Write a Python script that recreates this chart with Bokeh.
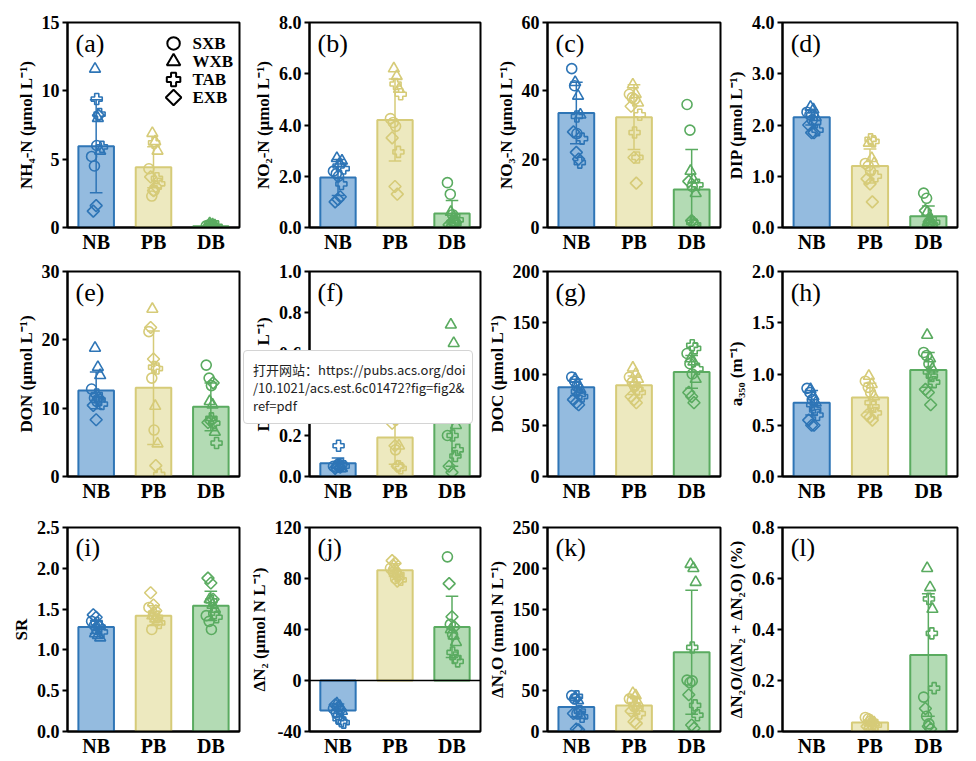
import math
from bokeh.plotting import figure
from bokeh.layouts import gridplot, column
from bokeh.models import Range1d, FixedTicker, PrintfTickFormatter, Label, Span, Div
from bokeh.embed import file_html
from bokeh.resources import INLINE

GROUPS = ["NB", "PB", "DB"]
SITES = ["SXB", "WXB", "TAB", "EXB"]
EDGE = ["#2e75b6", "#d6cb78", "#5aab60"]
FILL = ["#94bbdf", "#ede9bf", "#b3dbb4"]

# values per group: 3 points for each site in order SXB, WXB, TAB, EXB
NH4_NB = [5.2, 4.5, 6.0, 11.6, 8.0, 5.6, 9.4, 8.3, 5.9, 1.2, 1.6, 8.2]
NH4_PB = [4.3, 2.3, 2.7, 6.9, 6.3, 5.6, 6.2, 3.6, 3.2, 3.7, 2.7, 3.0]
NH4_DB = [0.12, 0.2, 0.06, 0.3, 0.22, 0.15, 0.1, 0.05, 0.08, 0.05, 0.1, 0.07]
NH4_MEAN = [5.95, 4.4, 0.1]
NH4_SD = [3.4, 1.5, 0.08]

NO2_NB = [2.2, 2.1, 2.0, 2.7, 2.5, 2.6, 2.4, 1.7, 2.3, 1.0, 1.1, 1.2]
NO2_PB = [4.25, 4.1, 3.95, 6.2, 5.9, 5.4, 5.6, 2.95, 5.2, 3.5, 1.6, 1.3]
NO2_DB = [1.75, 1.3, 0.5, 0.6, 0.4, 0.3, 0.2, 0.15, 0.3, 0.1, 0.05, 0.2]
NO2_MEAN = [1.95, 4.2, 0.55]
NO2_SD = [0.7, 1.6, 0.5]

NO3_NB = [46.5, 41.5, 27.5, 42.5, 38.5, 33.0, 32.5, 19.0, 26.0, 28.0, 22.0, 20.0]
NO3_PB = [39.0, 38.0, 37.5, 41.8, 39.0, 36.5, 27.8, 20.5, 33.0, 35.5, 20.5, 13.0]
NO3_DB = [36.0, 28.5, 12.0, 16.5, 14.0, 10.0, 1.5, 0.8, 12.5, 13.5, 2.0, 1.0]
NO3_MEAN = [33.5, 32.3, 11.1]
NO3_SD = [9.0, 9.5, 11.7]

DIP_NB = [2.25, 2.2, 2.1, 2.35, 2.3, 2.15, 2.2, 2.05, 1.9, 2.0, 1.85, 1.85]
DIP_PB = [1.25, 1.2, 1.1, 1.65, 1.35, 1.25, 1.72, 1.68, 1.0, 0.95, 0.85, 0.5]
DIP_DB = [0.67, 0.57, 0.1, 0.3, 0.15, 0.05, 0.08, 0.05, 0.1, 0.33, 0.05, 0.1]
DIP_MEAN = [2.15, 1.2, 0.22]
DIP_SD = [0.15, 0.33, 0.2]

DON_NB = [12.8, 11.5, 11.0, 18.8, 16.0, 14.8, 12.0, 11.2, 10.6, 10.4, 8.3, 11.5]
DON_PB = [21.2, 14.4, 6.8, 24.5, 10.3, 4.8, 16.0, 15.8, 0.3, 21.8, 17.2, 1.6]
DON_DB = [16.3, 14.4, 13.3, 11.0, 10.5, 6.5, 8.5, 7.8, 4.9, 7.9, 8.1, 13.7]
DON_MEAN = [12.6, 13.0, 10.2]
DON_SD = [2.7, 8.3, 3.5]

DOP_NB = [0.05, 0.045, 0.06, 0.055, 0.05, 0.04, 0.15, 0.06, 0.05, 0.04, 0.05, 0.045]
DOP_PB = [0.35, 0.3, 0.13, 0.4, 0.33, 0.15, 0.28, 0.05, 0.04, 0.26, 0.15, 0.05]
DOP_DB = [0.2, 0.35, 0.4, 0.74, 0.65, 0.25, 0.2, 0.1, 0.13, 0.05, 0.02, 0.3]
DOP_MEAN = [0.065, 0.19, 0.27]
DOP_SD = [0.025, 0.13, 0.22]

DOC_NB = [97, 93, 88, 95, 90, 85, 83, 80, 78, 75, 72, 70]
DOC_PB = [97, 92, 88, 106, 100, 95, 90, 85, 82, 78, 75, 72]
DOC_DB = [120, 110, 100, 115, 112, 95, 128, 125, 105, 82, 78, 72]
DOC_MEAN = [87, 89, 102]
DOC_SD = [8, 9, 16]

A350_NB = [0.86, 0.82, 0.75, 0.85, 0.78, 0.72, 0.70, 0.65, 0.60, 0.55, 0.50, 0.50]
A350_PB = [0.93, 0.87, 0.82, 0.98, 0.90, 0.78, 0.72, 0.68, 0.62, 0.60, 0.58, 0.55]
A350_DB = [1.21, 1.18, 1.10, 1.38, 1.15, 1.05, 1.02, 0.98, 0.92, 0.85, 0.82, 0.70]
A350_MEAN = [0.72, 0.77, 1.04]
A350_SD = [0.12, 0.14, 0.17]

SR_NB = [1.35, 1.30, 1.25, 1.20, 1.18, 1.15, 1.33, 1.28, 1.22, 1.43, 1.40, 1.30]
SR_PB = [1.52, 1.25, 1.40, 1.42, 1.38, 1.35, 1.45, 1.40, 1.33, 1.70, 1.55, 1.48]
SR_DB = [1.42, 1.35, 1.25, 1.62, 1.55, 1.50, 1.60, 1.45, 1.40, 1.88, 1.82, 1.62]
SR_MEAN = [1.28, 1.42, 1.54]
SR_SD = [0.08, 0.12, 0.18]

DN2_NB = [-22, -25, -27, -18, -20, -24, -30, -32, -33, -19, -21, -23]
DN2_PB = [88, 85, 80, 90, 86, 82, 84, 83, 79, 94, 92, 78]
DN2_DB = [97, 44, 36, 40, 35, 30, 22, 18, 15, 76, 50, 42]
DN2_MEAN = [-23.5, 86.5, 42]
DN2_SD = [5, 5, 24]

DN2O_NB = [44, 40, 22, 42, 38, 20, 43, 25, 18, 22, 3, 2]
DN2O_PB = [40, 38, 30, 47, 44, 35, 33, 28, 22, 25, 12, 10]
DN2O_DB = [63, 60, 62, 205, 200, 183, 103, 32, 20, 45, 8, 4]
DN2O_MEAN = [30, 32, 97]
DN2O_SD = [12, 10, 76]

RATIO_NB = []
RATIO_PB = [0.055, 0.05, 0.04, 0.045, 0.04, 0.035, 0.03, 0.03, 0.025, 0.02, 0.015, 0.01]
RATIO_DB = [0.135, 0.06, 0.03, 0.64, 0.565, 0.48, 0.52, 0.385, 0.17, 0.09, 0.02, 0.01]
RATIO_MEAN = [None, 0.035, 0.30]
RATIO_SD = [None, 0.01, 0.24]

PANELS = [
    ("(a)", "NH₄-N (μmol L⁻¹)", 0, 15, [0, 5, 10, 15], "%d", (NH4_NB, NH4_PB, NH4_DB), NH4_MEAN, NH4_SD),
    ("(b)", "NO₂-N (μmol L⁻¹)", 0, 8, [0, 2, 4, 6, 8], "%.1f", (NO2_NB, NO2_PB, NO2_DB), NO2_MEAN, NO2_SD),
    ("(c)", "NO₃-N (μmol L⁻¹)", 0, 60, [0, 20, 40, 60], "%d", (NO3_NB, NO3_PB, NO3_DB), NO3_MEAN, NO3_SD),
    ("(d)", "DIP (μmol L⁻¹)", 0, 4, [0, 1, 2, 3, 4], "%.1f", (DIP_NB, DIP_PB, DIP_DB), DIP_MEAN, DIP_SD),
    ("(e)", "DON (μmol L⁻¹)", 0, 30, [0, 10, 20, 30], "%d", (DON_NB, DON_PB, DON_DB), DON_MEAN, DON_SD),
    ("(f)", "DOP (μmol L⁻¹)", 0, 1, [0, 0.2, 0.4, 0.6, 0.8, 1.0], "%.1f", (DOP_NB, DOP_PB, DOP_DB), DOP_MEAN, DOP_SD),
    ("(g)", "DOC (μmol L⁻¹)", 0, 200, [0, 50, 100, 150, 200], "%d", (DOC_NB, DOC_PB, DOC_DB), DOC_MEAN, DOC_SD),
    ("(h)", "a₃₅₀ (m⁻¹)", 0, 2, [0, 0.5, 1.0, 1.5, 2.0], "%.1f", (A350_NB, A350_PB, A350_DB), A350_MEAN, A350_SD),
    ("(i)", "SR", 0, 2.5, [0, 0.5, 1.0, 1.5, 2.0, 2.5], "%.1f", (SR_NB, SR_PB, SR_DB), SR_MEAN, SR_SD),
    ("(j)", "ΔN₂ (μmol N L⁻¹)", -40, 120, [-40, 0, 40, 80, 120], "%d", (DN2_NB, DN2_PB, DN2_DB), DN2_MEAN, DN2_SD),
    ("(k)", "ΔN₂O (nmol N L⁻¹)", 0, 250, [0, 50, 100, 150, 200, 250], "%d", (DN2O_NB, DN2O_PB, DN2O_DB), DN2O_MEAN, DN2O_SD),
    ("(l)", "ΔN₂O/(ΔN₂ + ΔN₂O) (%)", 0, 0.8, [0, 0.2, 0.4, 0.6, 0.8], "%.1f", (RATIO_NB, RATIO_PB, RATIO_DB), RATIO_MEAN, RATIO_SD),
]

POPUP_LINES = ["打开网站：https://pubs.acs.org/doi", "/10.1021/acs.est.6c01472?fig=fig2&amp;", "ref=pdf"]

SERIF = "Liberation Serif"
MARKERS = [("circle", 0.0, 10), ("triangle", 0.0, 11), ("plus", 0.0, 11), ("square", math.pi / 4, 8.5)]
SITE_DX = [-0.04, 0.02, 0.05, -0.01]
REP_DX = [-0.04, 0.01, 0.05]

# layout (pixels): per-column width / left border / right border, per-row height / top / bottom
COL_W = [246, 238, 238, 240]
COL_L = [67, 60, 59, 60]
COL_R = [7, 4, 2, 5]
ROW_H = [256, 255, 249]
ROW_T = [22, 15, 16]
ROW_B = [29, 35, 29]


def make_panel(idx, spec):
    tag, ylabel, lo, hi, ticks, fmt, groups, means, sds = spec
    r, c = idx // 4, idx % 4
    p = figure(width=COL_W[c], height=ROW_H[r], x_range=Range1d(-0.5, 2.5), y_range=Range1d(lo, hi),
               output_backend="svg", toolbar_location=None,
               min_border_left=COL_L[c], min_border_right=COL_R[c],
               min_border_top=ROW_T[r], min_border_bottom=ROW_B[r])
    p.xgrid.visible = False
    p.ygrid.visible = False
    p.outline_line_color = "black"
    p.outline_line_width = 2
    p.outline_line_alpha = 1

    p.xaxis.ticker = FixedTicker(ticks=[0, 1, 2])
    p.xaxis.major_label_overrides = {0: "NB", 1: "PB", 2: "DB"}
    p.xaxis.major_tick_line_color = None
    p.xaxis.major_tick_out = 0
    p.xaxis.major_tick_in = 0
    p.xaxis.minor_tick_line_color = None
    p.xaxis.minor_tick_out = 0
    p.xaxis.axis_line_width = 2
    p.xaxis.major_label_standoff = 3
    p.xaxis.major_label_text_font = SERIF
    p.xaxis.major_label_text_font_style = "bold"
    p.xaxis.major_label_text_font_size = "20px"
    p.xaxis.major_label_text_color = "black"

    p.yaxis.ticker = FixedTicker(ticks=ticks)
    p.yaxis.formatter = PrintfTickFormatter(format=fmt)
    p.yaxis.minor_tick_line_color = None
    p.yaxis.minor_tick_out = 0
    p.yaxis.major_tick_out = 5
    p.yaxis.major_tick_in = 0
    p.yaxis.major_tick_line_width = 2
    p.yaxis.axis_line_width = 2
    p.yaxis.major_label_standoff = 3
    p.yaxis.major_label_text_font = SERIF
    p.yaxis.major_label_text_font_style = "bold"
    p.yaxis.major_label_text_font_size = "18px"
    p.yaxis.major_label_text_color = "black"
    p.yaxis.axis_label = ylabel
    p.yaxis.axis_label_standoff = 3
    p.yaxis.axis_label_text_font = SERIF
    p.yaxis.axis_label_text_font_style = "bold"
    p.yaxis.axis_label_text_font_size = "17px"
    p.yaxis.axis_label_text_color = "black"

    if lo < 0:
        p.add_layout(Span(location=0, dimension="width", line_color="black", line_width=1.5))

    gx = [g for g in range(3) if means[g] is not None]
    p.vbar(x=gx, width=0.62, bottom=0, top=[means[g] for g in gx],
           fill_color=[FILL[g] for g in gx], line_color=[EDGE[g] for g in gx], line_width=2)

    # error bars (mean +/- sd)
    cols = [EDGE[g] for g in gx]
    up = [means[g] + sds[g] for g in gx]
    dn = [means[g] - sds[g] for g in gx]
    p.segment(x0=gx, y0=dn, x1=gx, y1=up, line_color=cols, line_width=1.5)
    p.segment(x0=[g - 0.11 for g in gx], y0=up, x1=[g + 0.11 for g in gx], y1=up, line_color=cols, line_width=1.5)
    p.segment(x0=[g - 0.11 for g in gx], y0=dn, x1=[g + 0.11 for g in gx], y1=dn, line_color=cols, line_width=1.5)

    # individual samples
    for g, vals in enumerate(groups):
        for s in range(len(SITES)):
            ys = vals[3 * s:3 * s + 3]
            if not ys:
                continue
            xs = [g + SITE_DX[s] + REP_DX[k] for k in range(len(ys))]
            m, ang, sz = MARKERS[s]
            p.scatter(xs, ys, marker=m, angle=ang, size=sz, fill_color=None,
                      line_color=EDGE[g], line_width=1.6)

    span = hi - lo
    p.add_layout(Label(x=-0.36, y=hi - span * 0.1, text=tag, text_font=SERIF,
                       text_font_size="26px", text_baseline="middle", text_color="black"))

    if idx == 0:
        for k, site in enumerate(SITES):
            m, ang, sz = MARKERS[k]
            yk = hi - span * (0.102 + 0.088 * k)
            p.scatter([1.35], [yk], marker=m, angle=ang, size=sz + 2.5, fill_color=None,
                      line_color="black", line_width=2)
            p.add_layout(Label(x=1.68, y=yk, text=site, text_font=SERIF, text_font_style="bold",
                               text_font_size="17px", text_baseline="middle", text_color="black"))
    return p


figs = [make_panel(i, spec) for i, spec in enumerate(PANELS)]
grid = gridplot([figs[0:4], figs[4:8], figs[8:12]], toolbar_location=None)

popup = Div(text="<br>".join(POPUP_LINES), width=230, height=74,
            styles={"position": "absolute", "left": "238px", "top": "345px", "z-index": "20",
                    "background-color": "white", "border": "1px solid #d4d4d4",
                    "border-radius": "4px", "box-sizing": "border-box",
                    "padding": "10px 6px 8px 9px", "font-family": "Noto Sans CJK SC",
                    "font-size": "13px", "line-height": "18px", "color": "#222222",
                    "white-space": "nowrap", "overflow": "hidden"})

page = column(grid, popup, spacing=0)

open("out.html", "w").write(file_html(page, INLINE))
